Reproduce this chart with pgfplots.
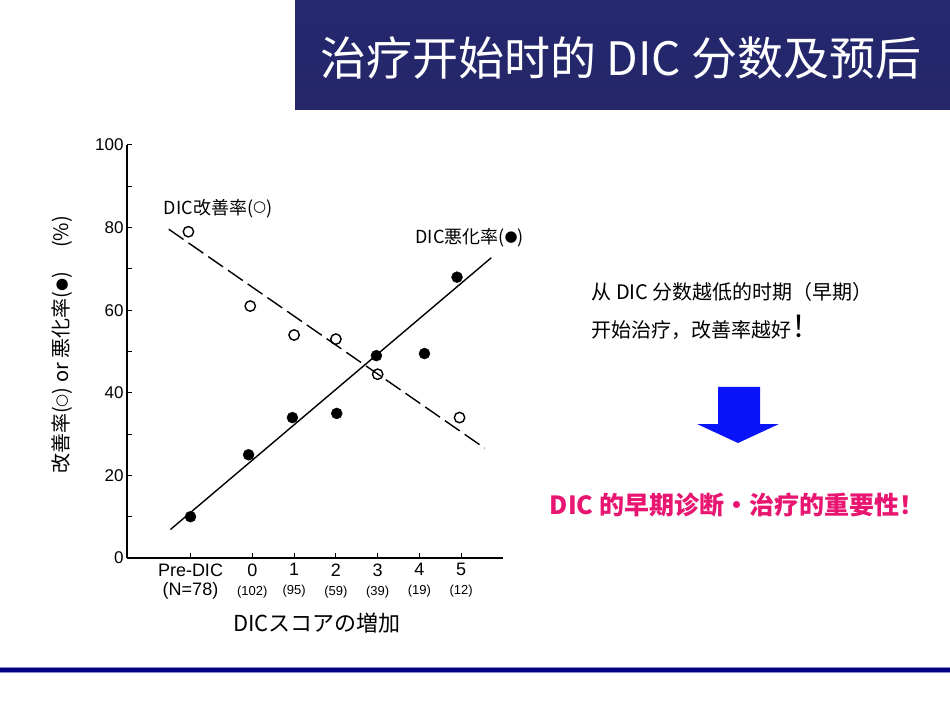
\documentclass[border=0pt]{standalone}
\usepackage{fontspec}
\setmainfont{Liberation Sans}
\newfontfamily\jpfont{Noto Sans CJK JP}
\newfontfamily\scfont{Noto Sans CJK SC}
\newfontfamily\symfont{DejaVu Sans}
\usepackage{pgfplots}
\pgfplotsset{compat=1.18}

\definecolor{banTop}{RGB}{38,40,112}
\definecolor{banMid}{RGB}{50,52,150}
\definecolor{banBot}{RGB}{36,38,104}
\definecolor{navy}{RGB}{0,0,128}
\definecolor{edge}{RGB}{140,140,220}
\definecolor{pink}{RGB}{232,22,112}
\definecolor{arrowblue}{RGB}{10,20,250}

\newcommand{\wc}{\raisebox{0.12em}{\symfont\fontsize{15}{16}\selectfont ○}}
\newcommand{\bc}{\raisebox{0.12em}{\symfont\fontsize{15}{16}\selectfont ●}}

\begin{document}
\begin{tikzpicture}[x=1pt,y=1pt]
% page, 950 x 713
\fill[white] (0,0) rectangle (950,713);
\useasboundingbox (0,0) rectangle (950,713);
\coordinate (axsw) at (127,155);

% title banner
\shade[top color=banTop, middle color=banMid, bottom color=banBot] (295,603) rectangle (950,713);
\node[white, font=\scfont\fontsize{46}{50}\selectfont] at (621,655) {治疗开始时的 DIC 分数及预后};

\begin{axis}[
    at={(axsw)}, anchor=south west,
    scale only axis, width=376pt, height=413pt,
    xmin=-3, xmax=6, ymin=0, ymax=100,
    axis x line=bottom, axis y line=left,
    axis line style={-, line width=1.2pt},
    tick align=inside,
    major tick length=5pt, minor tick length=5pt,
    tick style={black, line width=1pt},
    ytick={0,20,...,100}, minor ytick={10,30,...,90},
    xtick={-1.48,0,1,2,3,4,5},
    xticklabels={
        {Pre-DIC\\(N=78)},
        {0\\\fontsize{13}{19}\selectfont(102)},
        {1\\\fontsize{13}{19}\selectfont(95)},
        {2\\\fontsize{13}{19}\selectfont(59)},
        {3\\\fontsize{13}{19}\selectfont(39)},
        {4\\\fontsize{13}{19}\selectfont(19)},
        {5\\\fontsize{13}{19}\selectfont(12)}},
    /pgf/number format/assume math mode=true,
    yticklabel style={font=\fontsize{17}{19}\selectfont},
    xticklabel style={font=\fontsize{18}{19}\selectfont, align=center, anchor=north, yshift=-2pt},
    xlabel={{\jpfont DICスコアの増加}},
    xlabel style={font=\fontsize{22}{24}\selectfont, at={(axis description cs:0.505,-0.157)}, anchor=center},
    ylabel={{\jpfont 改善率(\wc) or 悪化率(\bc)\hspace{24pt}(\%)}},
    ylabel style={font=\fontsize{20}{22}\selectfont, at={(axis description cs:-0.173,0.516)}, anchor=center},
    clip=false,
]
% improvement rate (open circles) and its fit
\addplot[black, line width=1.4pt, dash pattern=on 18pt off 6pt] coordinates {(-2.0,79.6) (5.56,26.6)};
\addplot[only marks, mark=o, mark size=5.2pt, mark options={line width=1.4pt, fill=white}] coordinates {
    (-1.53,79) (-0.05,61) (1.0,54) (2.0,53) (3.0,44.5) (4.96,34)};
% worsening rate (filled circles) and its fit
\addplot[black, line width=1.4pt] coordinates {(-1.96,6.9) (5.72,72.7)};
\addplot[only marks, mark=*, mark size=5.5pt, mark options={black}] coordinates {
    (-1.48,10) (-0.09,25) (0.96,34) (2.02,35) (2.97,49) (4.12,49.5) (4.9,68)};
\node[font=\jpfont\fontsize{18}{20}\selectfont] at (axis cs:-0.82,84.7) {DIC改善率(\wc)};
\node[font=\jpfont\fontsize{18}{20}\selectfont] at (axis cs:5.2,77.5) {DIC悪化率(\bc)};
\end{axis}

% right-hand text
\node[anchor=west, font=\scfont\fontsize{20}{22}\selectfont] at (588,421) {从 DIC 分数越低的时期（早期）};
\node[anchor=west, font=\scfont\fontsize{20}{22}\selectfont] at (588,386) {开始治疗，改善率越好{\fontsize{30}{32}\selectfont ！}};

% arrow
\fill[arrowblue] (718,326) -- (760,326) -- (760,289) -- (779,289) -- (738,270) -- (697,289) -- (718,289) -- cycle;

\node[pink, font=\scfont\bfseries\fontsize{25}{27}\selectfont] at (737,208) {DIC 的早期诊断・治疗的重要性！};

% bottom rule
\fill[navy] (0,40.5) rectangle (950,45.5);
\draw[edge, line width=0.8pt] (0,40.5) -- (950,40.5);
\draw[edge, line width=0.8pt] (0,45.5) -- (950,45.5);
\end{tikzpicture}
\end{document}
